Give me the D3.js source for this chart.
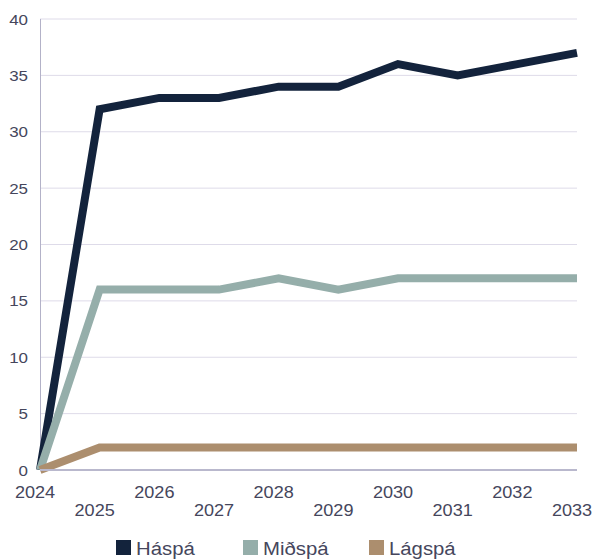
<!DOCTYPE html>
<html>
<head>
<meta charset="utf-8">
<script src="https://cdn.jsdelivr.net/npm/d3@7"></script>
<style>
html,body{margin:0;padding:0;background:#fff;}
svg{display:block;}
text{font-family:"Liberation Sans",Arial,sans-serif;fill:#45465c;}
</style>
</head>
<body>
<svg id="chart" width="594" height="559"></svg>
<script>
const years = ["2024","2025","2026","2027","2028","2029","2030","2031","2032","2033"];
const haspa = [0, 32, 33, 33, 34, 34, 36, 35, 36, 37];
const midspa = [0, 16, 16, 16, 17, 16, 17, 17, 17, 17];
const lagspa = [0, 2, 2, 2, 2, 2, 2, 2, 2, 2];
const yTicks = [0, 5, 10, 15, 20, 25, 30, 35, 40];
const seriesNames = ["Háspá", "Miðspá", "Lágspá"];
const seriesColors = ["#13233c", "#95aeaa", "#ac8e6e"];

const series = [haspa, midspa, lagspa].map((v, i) => ({name: seriesNames[i], color: seriesColors[i], values: v}));

const svg = d3.select("#chart");
const mLeft = 40, mRight = 577, mTop = 19, mBottom = 470;
const SX = 1.13;

const x = d3.scalePoint().domain(years).range([mLeft, mRight]);
const y = d3.scaleLinear().domain([0, 40]).range([mBottom, mTop]);

// gridlines
svg.append("g").selectAll("line").data(yTicks.filter(d => d > 0)).join("line")
  .attr("x1", mLeft).attr("x2", mRight)
  .attr("y1", d => y(d)).attr("y2", d => y(d))
  .attr("stroke", "#dedbe9").attr("stroke-width", 1);

// left axis line
svg.append("line").attr("x1", mLeft + 0.5).attr("x2", mLeft + 0.5).attr("y1", mTop).attr("y2", mBottom)
  .attr("stroke", "#b3b2c8").attr("stroke-width", 1);

// y tick labels
svg.append("g").selectAll("text").data(yTicks).join("text")
  .attr("transform", d => `translate(28,${y(d) + 5.5}) scale(${SX},1)`)
  .attr("text-anchor", "end")
  .attr("font-size", 15)
  .text(d => d);

// x tick labels (staggered)
svg.append("g").selectAll("text").data(years).join("text")
  .attr("transform", (d, i) => `translate(${x(d) - 5},${i % 2 === 0 ? 498 : 516}) scale(${SX},1)`)
  .attr("text-anchor", "middle")
  .attr("font-size", 16)
  .text(d => d);

// lines
const line = d3.line().x((d, i) => x(years[i])).y(d => y(d));
svg.append("g").selectAll("path").data(series).join("path")
  .attr("d", d => line(d.values))
  .attr("fill", "none")
  .attr("stroke", d => d.color)
  .attr("stroke-width", 8)
  .attr("stroke-linejoin", "miter")
  .attr("stroke-linecap", "butt");

// bottom axis line
svg.append("line").attr("x1", mLeft).attr("x2", mRight).attr("y1", mBottom).attr("y2", mBottom)
  .attr("stroke", "#b9b8cd").attr("stroke-width", 2);

// legend
const legendX = [116, 243, 369];
const lg = svg.append("g").selectAll("g").data(series).join("g")
  .attr("transform", (d, i) => `translate(${legendX[i]},540)`);
lg.append("rect").attr("width", 15).attr("height", 15).attr("fill", d => d.color);
lg.append("text").attr("transform", `translate(20,15) scale(${SX},1)`)
  .attr("font-size", 18).text(d => d.name);
</script>
</body>
</html>
